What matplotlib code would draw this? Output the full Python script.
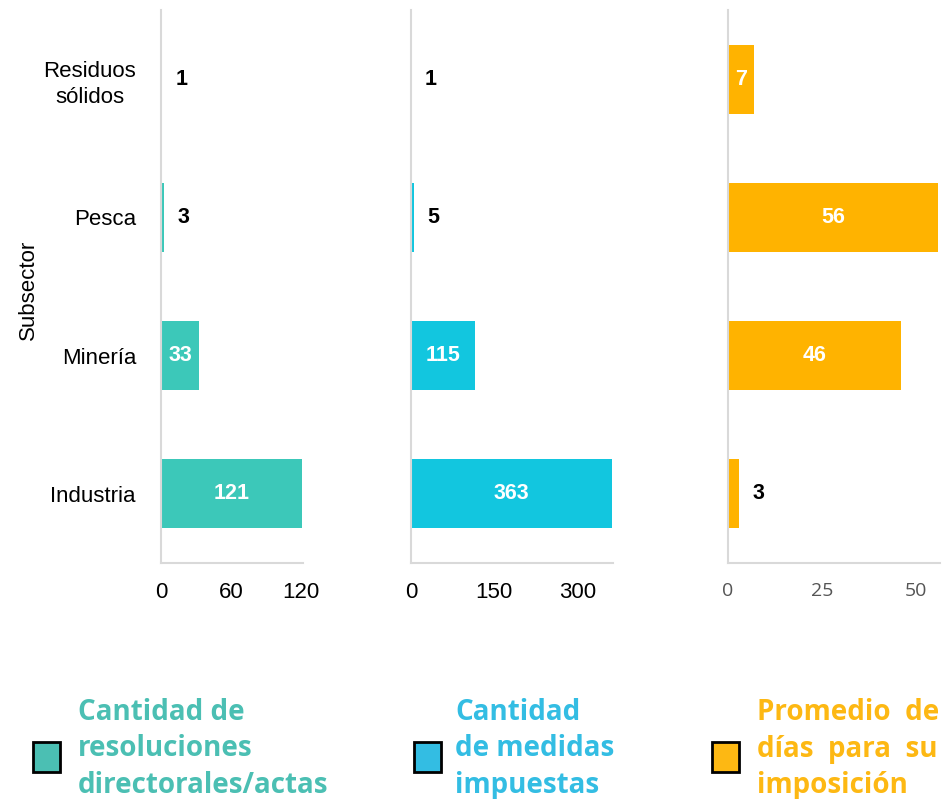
import matplotlib.pyplot as plt

# datos
subsectores = ["Industria", "Minería", "Pesca", "Residuos\nsólidos"]
resoluciones = [121, 33, 3, 1]
medidas = [363, 115, 5, 1]
dias = [3, 46, 56, 7]

colores = ["#3CC8B9", "#12C6DF", "#FFB300"]
colores_leyenda = ["#4BBFB3", "#33BDE3", "#FDB813"]
textos_leyenda = ["Cantidad de\nresoluciones\ndirectorales/actas",
                  "Cantidad\nde medidas\nimpuestas",
                  "Promedio  de\ndías  para  su\nimposición"]

fig = plt.figure(figsize=(9.44, 7.99), dpi=100)
W, H = 944, 799


def eje(x0, x1):
    return fig.add_axes([x0 / W, (H - 563) / H, (x1 - x0) / W, 553 / H])


ax1 = eje(161, 303)
ax2 = eje(411, 613)
ax3 = eje(728, 940)

paneles = [
    (ax1, resoluciones, colores[0], (0, 122), [0, 60, 120], 20, "black", "Liberation Sans"),
    (ax2, medidas, colores[1], (0, 364), [0, 150, 300], 50, "black", "Liberation Sans"),
    (ax3, dias, colores[2], (0, 56.5), [0, 25, 50], 7, "#555555", "Open Sans"),
]

y = range(len(subsectores))
for ax, vals, color, lim, ticks, umbral, tcol, tfont in paneles:
    bars = ax.barh(y, vals, height=0.5, color=color)
    ax.set_xlim(*lim)
    ax.set_ylim(-0.5, 3.5)
    ax.set_xticks(ticks)
    ax.set_xticklabels([str(t) for t in ticks], fontsize=16 if tfont != "Open Sans" else 14,
                       color=tcol, family=tfont)
    ax.tick_params(length=0, pad=14)
    for s in ["top", "right"]:
        ax.spines[s].set_visible(False)
    for s in ["left", "bottom"]:
        ax.spines[s].set_color("#D9D9D9")
        ax.spines[s].set_linewidth(1.5)
    for b, v in zip(bars, vals):
        cy = b.get_y() + b.get_height() / 2
        if v >= umbral:
            ax.text(v / 2, cy, str(v), ha="center", va="center", color="white",
                    fontsize=15.5, fontweight="bold", family="Liberation Sans")
        else:
            ax.annotate(str(v), (v, cy), xytext=(14, 0), textcoords="offset points",
                        ha="center", va="center", color="black", fontsize=15.5,
                        fontweight="bold", family="Liberation Sans")

ax1.set_yticks(list(y))
ax1.set_yticklabels(subsectores, fontsize=16, family="Liberation Sans", linespacing=1.35,
                    multialignment="center")
ax1.tick_params(axis="y", pad=18)
for ax in (ax2, ax3):
    ax.set_yticks([])
fig.text(28 / W, 1 - 290 / H, "Subsector", rotation=90, ha="center", va="center",
         fontsize=16, family="Liberation Sans")

# leyenda
pos_cuadro = [33, 414, 712]
pos_texto = [78, 455, 757]
for cx, tx, c, t in zip(pos_cuadro, pos_texto, colores_leyenda, textos_leyenda):
    fig.patches.append(plt.Rectangle((cx / W, 1 - 772 / H), 27 / W, 30 / H,
                                     transform=fig.transFigure, facecolor=c,
                                     edgecolor="black", linewidth=2))
    fig.text(tx / W, 1 - 749 / H, t, ha="left", va="center", color=c,
             fontsize=20, fontweight="bold", family="Open Sans", linespacing=1.32)

fig.savefig("out.png", dpi=100)
